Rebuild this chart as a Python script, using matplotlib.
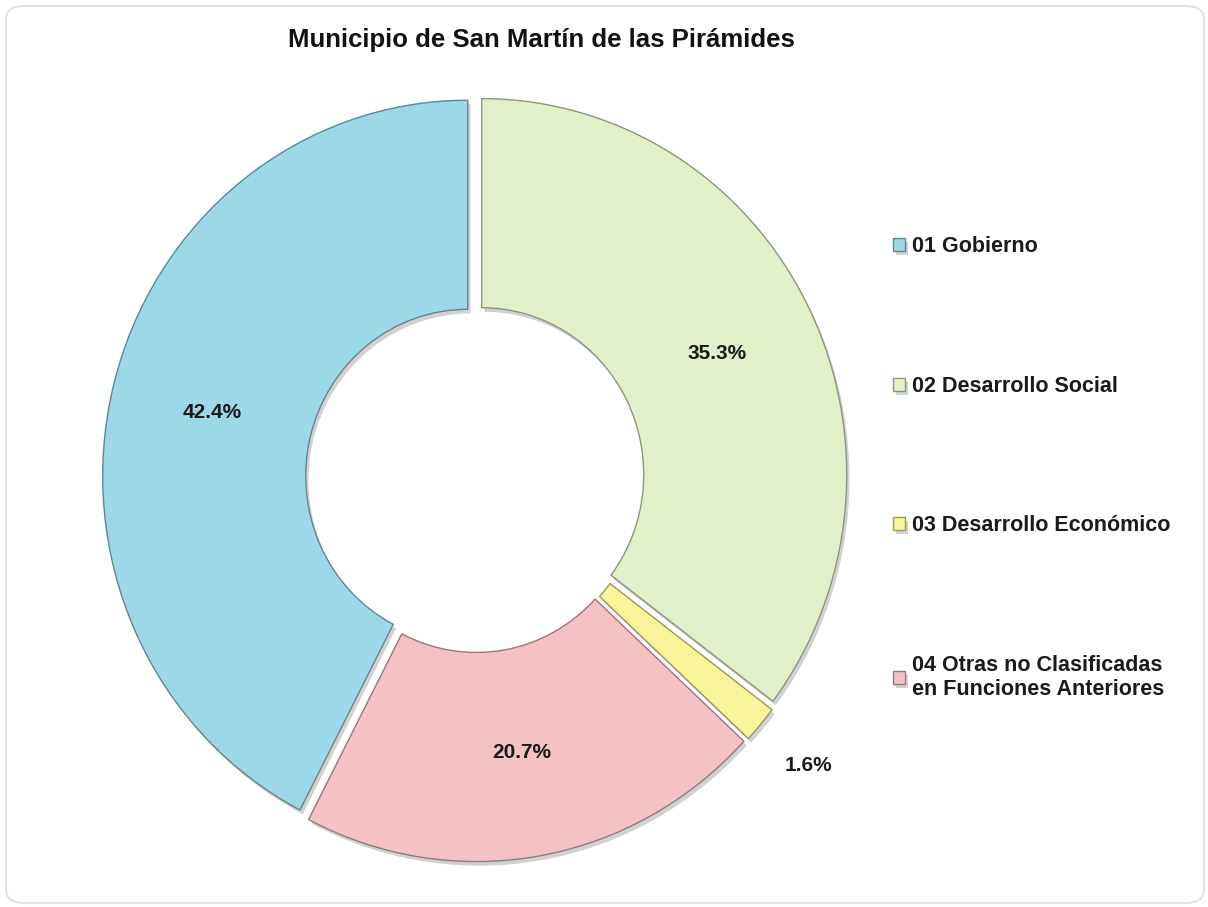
import math

import matplotlib
matplotlib.use("Agg")
import matplotlib.pyplot as plt
import matplotlib.patheffects as pe
from matplotlib.patches import FancyBboxPatch
from matplotlib.colors import to_rgb

# datos del gráfico
categorias = [
    "01 Gobierno",
    "04 Otras no Clasificadas\nen Funciones Anteriores",
    "03 Desarrollo Económico",
    "02 Desarrollo Social",
]
porcentajes = [42.4, 20.7, 1.6, 35.3]
colores = ["#9dd8e8", "#f4c2c5", "#f8f49a", "#e2f0c9"]
orden_leyenda = [0, 3, 2, 1]  # 01, 02, 03, 04
titulo = "Municipio de San Martín de las Pirámides"

W, H = 1208, 907
k = 1.03  # ligera deformación vertical del original
cx, cy = 475, (H - 478) / k
radio = 365
grosor = 203

fig = plt.figure(figsize=(W / 100, H / 100), dpi=100)
ax = fig.add_axes([0, 0, 1, 1])

bordes = [tuple(c * 0.62 for c in to_rgb(col)) for col in colores]

wedges, texts, autotexts = ax.pie(
    porcentajes,
    colors=colores,
    startangle=90,
    counterclock=True,
    explode=[7.5] * len(porcentajes),
    radius=radio,
    center=(cx, cy),
    autopct="%1.1f%%",
    pctdistance=0.72,
    wedgeprops=dict(width=grosor, linewidth=1.0),
    textprops=dict(fontsize=15, fontweight="bold", color="#1a1a1a",
                   family=["Liberation Sans", "DejaVu Sans"]),
)
for w, b in zip(wedges, bordes):
    w.set_edgecolor(b)
    w.set_path_effects([
        pe.SimplePatchShadow(offset=(2, -3), shadow_rgbFace="#9a9a9a", alpha=0.45),
        pe.Normal(),
    ])

# etiqueta de la porción pequeña fuera del anillo
for w, t, v in zip(wedges, autotexts, porcentajes):
    if v < 5:
        ang = math.radians((w.theta1 + w.theta2) / 2)
        x0, y0 = w.center
        t.set_position((x0 + radio * 1.17 * math.cos(ang),
                        y0 + radio * 1.17 * math.sin(ang)))

ax.set_xlim(0, W)
ax.set_ylim(0, H / k)
ax.set_aspect("auto")
ax.axis("off")

fig.text(541 / W, 1 - 40 / H, titulo, ha="center", va="center",
         fontsize=18.5, fontweight="bold", color="#111111",
         family=["Liberation Sans Narrow", "Liberation Sans", "DejaVu Sans"])

leg = fig.legend(
    [wedges[i] for i in orden_leyenda],
    [categorias[i] for i in orden_leyenda],
    loc="upper left",
    bbox_to_anchor=(874 / W, 1 - 217 / H),
    frameon=False,
    handlelength=0.55,
    handleheight=0.55,
    handletextpad=0.3,
    labelspacing=5.5,
    prop=dict(family=["Liberation Sans", "DejaVu Sans"], weight="bold", size=15.5),
)
for t in leg.get_texts():
    t.set_color("#1a1a1a")

marco = FancyBboxPatch((6 / W, 4 / H), 1 - 10 / W, 1 - 10 / H,
                       boxstyle="round,pad=0,rounding_size=0.015",
                       transform=fig.transFigure, facecolor="none",
                       edgecolor="#e2e2e2", linewidth=1.5)
fig.patches.append(marco)

fig.savefig("out.png", dpi=100, facecolor="white")
